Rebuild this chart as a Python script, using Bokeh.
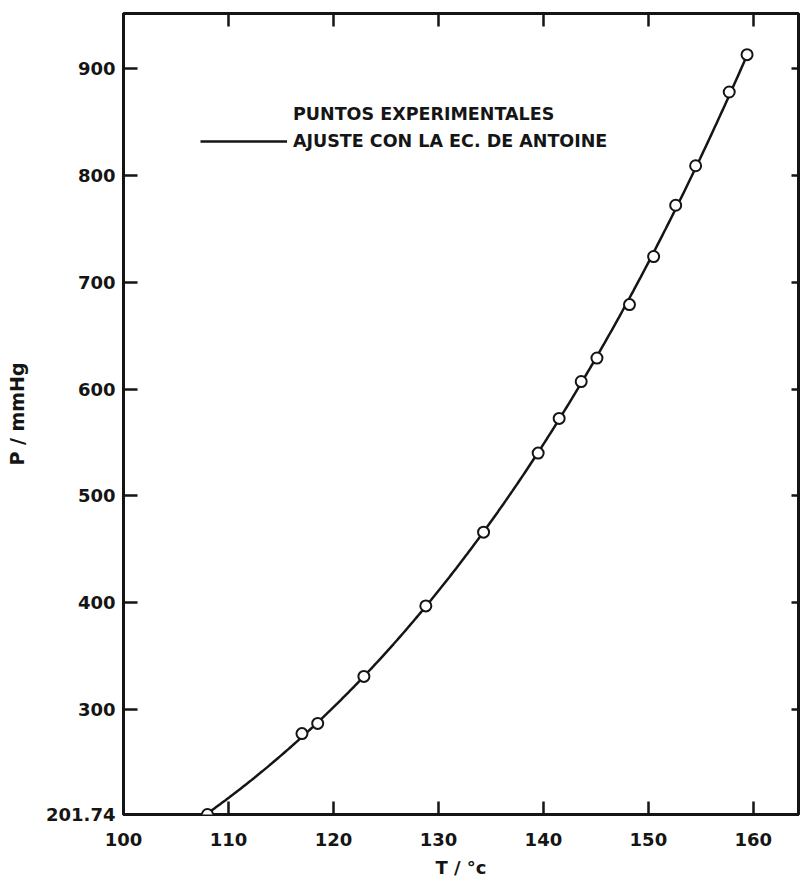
import numpy as np
from bokeh.plotting import figure
from bokeh.models import LinearAxis, FixedTicker, Range1d, Legend, LegendItem
from bokeh.embed import file_html
from bokeh.resources import INLINE

# Measured vapour pressure: temperature (°C) and pressure (mmHg)
temp_c = [108.0, 117.0, 118.5, 122.9, 128.8, 134.3, 139.5, 141.5,
          143.6, 145.1, 148.2, 150.5, 152.6, 154.5, 157.7, 159.4]
pressure_mmhg = [201.74, 277.5, 287.0, 331.0, 397.0, 466.0, 540.0, 572.5,
                 607.0, 629.0, 679.0, 724.0, 772.0, 809.0, 878.0, 913.0]

x_ticks = [100, 110, 120, 130, 140, 150, 160]
y_ticks = [201.74, 300, 400, 500, 600, 700, 800, 900]

points_label = "PUNTOS EXPERIMENTALES"
fit_label = "AJUSTE CON LA EC. DE ANTOINE"

# Antoine fit  log10(P) = A - B / (C + T): scan C, solve A and B by least squares
t_arr = np.array(temp_c)
logp = np.log10(np.array(pressure_mmhg))
best = None
for c in np.arange(100.0, 400.0, 0.25):
    xs = 1.0 / (t_arr + c)
    slope, intercept = np.polyfit(xs, logp, 1)
    sse = float(((logp - (intercept + slope * xs)) ** 2).sum())
    if best is None or sse < best[0]:
        best = (sse, intercept, -slope, c)
_, A, B, C = best
curve_t = np.linspace(t_arr.min(), t_arr.max(), 300)
curve_p = 10 ** (A - B / (C + curve_t))

INK = "#151515"
FONT = "DejaVu Sans"

p = figure(width=801, height=885, output_backend="svg", toolbar_location=None,
           x_range=Range1d(100, 164.3), y_range=Range1d(201.74, 951.5),
           min_border_left=123, min_border_right=3, min_border_top=13,
           min_border_bottom=71,
           x_axis_label="T / °c", y_axis_label="P / mmHg",
           background_fill_color="white", border_fill_color="white")
p.grid.visible = False
p.outline_line_color = INK
p.outline_line_width = 3

p.add_layout(LinearAxis(), "above")
p.add_layout(LinearAxis(), "right")

for ax in p.xaxis:
    ax.ticker = FixedTicker(ticks=x_ticks)
    ax.major_tick_in = 13
for ax in p.yaxis:
    ax.ticker = FixedTicker(ticks=y_ticks)
    ax.major_label_overrides = {v: f"{v:g}" for v in y_ticks}

for ax in p.xaxis + p.yaxis:
    ax.axis_line_color = None
    ax.major_tick_out = 0
    ax.major_tick_line_color = INK
    ax.major_tick_line_width = 2.5
    ax.minor_tick_line_color = None
    ax.major_label_text_font = FONT
    ax.major_label_text_font_style = "bold"
    ax.major_label_text_font_size = "18px"
    ax.major_label_text_color = INK
    ax.axis_label_text_font = FONT
    ax.axis_label_text_font_style = "bold"
    ax.axis_label_text_color = INK

# bottom / left carry the labels, top / right only the inward ticks
bottom, top = p.below[0], p.above[0]
left, right = p.left[0], p.right[0]
bottom.major_label_standoff = 18
bottom.axis_label_standoff = 8
bottom.axis_label_text_font_size = "18px"
left.major_tick_in = 14
left.major_label_standoff = 8
left.axis_label_standoff = 15
left.axis_label_text_font_size = "19px"
top.major_label_overrides = {v: "" for v in x_ticks}
right.major_label_overrides = {v: "" for v in y_ticks}
for ax in (top, right):
    ax.major_label_standoff = 0
top.major_tick_in = 13
right.major_tick_in = 7

fit_line = p.line(curve_t, curve_p, line_color=INK, line_width=2.5)
pts = p.scatter(temp_c, pressure_mmhg, marker="circle", size=11,
                fill_color="white", line_color=INK, line_width=2)

legend = Legend(items=[LegendItem(label=points_label, renderers=[]),
                       LegendItem(label=fit_label, renderers=[fit_line])],
                location=(77, 663), padding=0, margin=0, spacing=7,
                glyph_width=87, glyph_height=20, label_height=20,
                label_standoff=6, border_line_color=None,
                background_fill_alpha=0,
                label_text_font=FONT, label_text_font_style="bold",
                label_text_font_size="17.5px", label_text_color=INK)
p.add_layout(legend)

open("out.html", "w").write(file_html(p, INLINE))
